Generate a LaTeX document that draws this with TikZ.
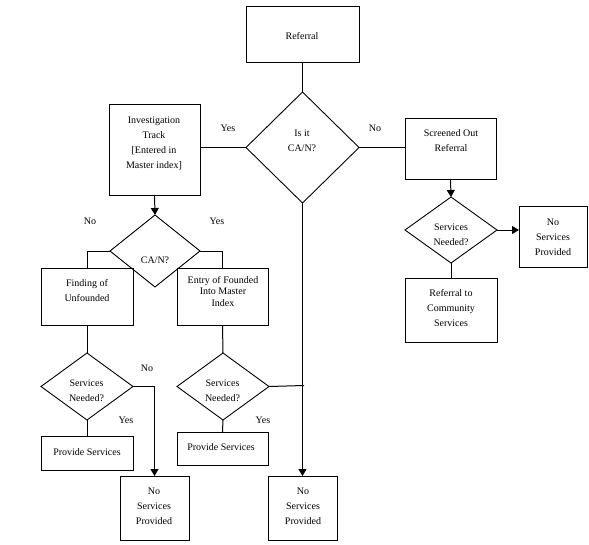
\documentclass[tikz,border=0pt]{standalone}
\usepackage{fontspec}
\setmainfont{Liberation Serif}
\usetikzlibrary{shapes.geometric,arrows.meta}
\begin{document}
\begin{tikzpicture}[x=1pt,y=-1pt,
  box/.style={draw,line width=1pt,inner sep=0pt,outer sep=0pt},
  dia/.style={draw,diamond,line width=0.9pt,inner sep=0pt,outer sep=0pt},
  txt/.style={inner sep=0pt,align=center,font=\fontsize{10}{15}\selectfont},
  tight/.style={inner sep=0pt,align=center,font=\fontsize{10}{11.5}\selectfont},
  lab/.style={inner sep=0pt,font=\fontsize{10}{12}\selectfont},
  conn/.style={line width=1pt},
  arr/.style={line width=1pt,-{Triangle[width=8pt,length=7pt]}}]
\useasboundingbox (0,0) rectangle (589,544);

% shapes
\node[box,minimum width=113pt,minimum height=56pt] (ref) at (302.5,34) {};
\node[dia,minimum width=113pt,minimum height=111pt] (isit) at (302.5,147.5) {};
\node[box,minimum width=91pt,minimum height=91pt] (inv) at (154.5,149.5) {};
\node[box,minimum width=91pt,minimum height=61pt] (scr) at (450.5,148.5) {};
\node[dia,minimum width=92pt,minimum height=66pt] (sn1) at (451,230) {};
\node[box,minimum width=68pt,minimum height=61pt] (nsp1) at (553,236.5) {};
\node[box,minimum width=92pt,minimum height=64pt] (rcs) at (451,310) {};
\node[dia,minimum width=90pt,minimum height=72pt] (can) at (155,251) {};
\node[box,minimum width=92pt,minimum height=57pt] (fin) at (87,296.5) {};
\node[box,minimum width=91pt,minimum height=57pt] (entry) at (222.5,296.5) {};
\node[dia,minimum width=92pt,minimum height=67pt] (sn2) at (87,386.5) {};
\node[box,minimum width=92pt,minimum height=34pt] (ps1) at (87,453) {};
\node[box,minimum width=69pt,minimum height=64pt] (nsp2) at (154.5,508) {};
\node[dia,minimum width=92pt,minimum height=67pt] (sn3) at (223,386.5) {};
\node[box,minimum width=91pt,minimum height=33pt] (ps2) at (222.5,448.5) {};
\node[box,minimum width=69pt,minimum height=64pt] (nsp3) at (302.5,508) {};
\coordinate (join) at (304,385.5);

% texts
\node[txt] (tref) at (302,36) {Referral};
\node[txt] (tisit) at (302,140.5) {Is it\\CA/N?};
\node[txt] (tinv) at (154,143) {Investigation\\Track\\{[}Entered in\\Master index{]}};
\node[txt] (tscr) at (451,141) {Screened Out\\Referral};
\node[txt] (tsn1) at (451,234.5) {Services\\Needed?};
\node[txt] (tnsp1) at (553,237) {No\\Services\\Provided};
\node[txt] (trcs) at (451,308) {Referral to\\Community\\Services};
\node[txt] (tcan) at (155,260) {CA/N?};
\node[txt] (tfin) at (87,291) {Finding of\\Unfounded};
\node[tight] (tentry) at (223,291.5) {Entry of Founded\\Into Master\\Index};
\node[txt] (tsn2) at (86.5,390.5) {Services\\Needed?};
\node[txt] (tsn3) at (222.5,390.5) {Services\\Needed?};
\node[txt] (tps1) at (87,452) {Provide Services};
\node[txt] (tps2) at (221,447) {Provide Services};
\node[txt] (tnsp2) at (154,506) {No\\Services\\Provided};
\node[txt] (tnsp3) at (303,506) {No\\Services\\Provided};

% labels
\node[lab] (l1) at (228,128) {Yes};
\node[lab] (l2) at (375,128) {No};
\node[lab] (l3) at (90,221) {No};
\node[lab] (l4) at (217,221) {Yes};
\node[lab] (l5) at (147,368) {No};
\node[lab] (l6) at (126,420) {Yes};
\node[lab] (l7) at (263,420) {Yes};

% connectors
\draw[conn] (ref.south) -- (isit.north);
\draw[conn] (isit.west) -- (isit.west -| inv.east);
\draw[conn] (isit.east) -- (isit.east -| scr.west);
\draw[arr] (scr.south) -- (sn1.north);
\draw[arr] (sn1.east) -- (sn1.east -| nsp1.west);
\draw[conn] (sn1.south) -- (rcs.north);
\draw[arr] (isit.south) -- (nsp3.north);
\draw[arr] (inv.south) -- (can.north);
\draw[conn] (can.west) -| (fin.north);
\draw[conn] (can.east) -| (entry.north);
\draw[conn] (fin.south) -- (sn2.north);
\draw[conn] (sn2.south) -- (ps1.north);
\draw[arr] (sn2.east) -| (nsp2.north);
\draw[conn] (entry.south) -- (sn3.north);
\draw[conn] (sn3.south) -- (ps2.north);
\draw[conn] (sn3.east) -- (join);
\end{tikzpicture}
\end{document}
